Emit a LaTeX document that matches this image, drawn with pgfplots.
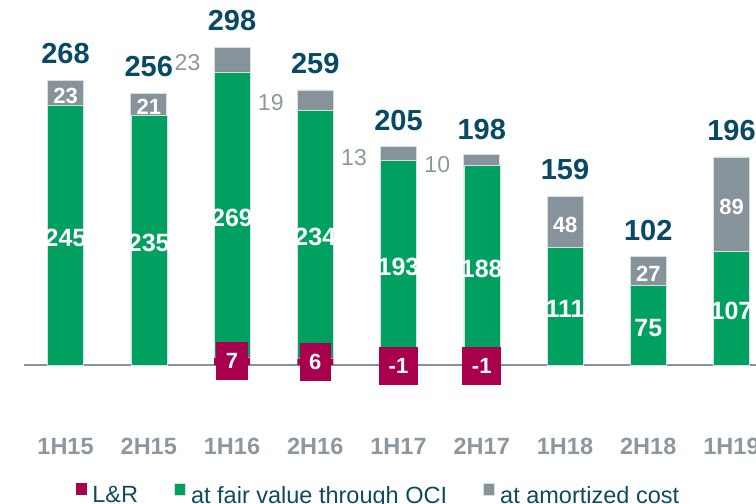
\documentclass[border=0pt]{standalone}
\usepackage{pgfplots}
\pgfplotsset{compat=1.18}
\usepackage{fontspec}
\setmainfont{Liberation Sans}
\definecolor{lrred}{RGB}{168,0,76}
\definecolor{fvgreen}{RGB}{0,160,96}
\definecolor{acgray}{RGB}{134,147,154}
\definecolor{totblue}{RGB}{8,74,100}
\definecolor{ticgray}{RGB}{140,152,158}
\definecolor{legtext}{RGB}{16,74,94}
\definecolor{edge}{RGB}{214,224,226}
\pgfplotsset{
  base/.style={
    scale only axis, width=749.25pt, height=435pt,
    xmin=-0.5, xmax=8.5, ymin=-65.9, ymax=343.7,
    at={(23.9pt,69pt)}, anchor=south west,
  },
}
\begin{document}
\begin{tikzpicture}
\useasboundingbox (0,0) rectangle (756pt,504pt);
\clip (0,0) rectangle (756pt,504pt);
\begin{axis}[base,
  ybar stacked, bar width=36pt,
  axis line style={draw=none}, tick style={draw=none},
  ytick=\empty, xtick={0,...,8},
  xticklabels={1H15,2H15,1H16,2H16,1H17,2H17,1H18,2H18,1H19},
  xticklabel style={font=\fontsize{23.5}{24}\selectfont\bfseries, text=ticgray, inner sep=0pt, anchor=north, yshift=-3pt},
  extra y ticks={0}, extra y tick labels={},
  extra y tick style={grid=major, major grid style={draw=acgray, line width=1.5pt}},
  legend columns=-1,
  legend style={at={(0.0691,-0.1103)}, anchor=north west, draw=none, fill=none, inner sep=0pt,
     font=\fontsize{23.5}{24}\selectfont, text=legtext,
     nodes={inner sep=0pt},
     /tikz/every odd column/.append style={column sep=5.5pt},
     /tikz/every even column/.append style={column sep=36pt}},
  legend image code/.code={\fill[#1] (0pt,0pt) rectangle (11pt,12pt);},
]
\addplot[fill=lrred, draw=none] coordinates {(0,0)(1,0)(2,7)(3,6)(4,-1)(5,-1)(6,0)(7,0)(8,0)};
\addplot[fill=fvgreen, draw=edge, line width=0.5pt] coordinates {(0,245)(1,235)(2,269)(3,234)(4,193)(5,188)(6,111)(7,75)(8,107)};
\addplot[fill=acgray, draw=edge, line width=0.6pt] coordinates {(0,23)(1,21)(2,23)(3,19)(4,13)(5,10)(6,48)(7,27)(8,89)};
\legend{L\&R, at fair value through OCI, at amortized cost}
\end{axis}
\begin{axis}[base, hide axis, clip=false]
% green segment labels
\addplot[draw=none, mark=none, nodes near coords, point meta=explicit symbolic,
  every node near coord/.style={anchor=center, font=\fontsize{25}{26}\selectfont\bfseries, text=white, inner sep=0pt, yshift=-3pt}]
  coordinates {(0,122.5)[245] (1,117.5)[235] (2,141.5)[269] (3,123)[234] (4,95.5)[193] (5,93)[188] (6,55.5)[111] (7,37.5)[75] (8,53.5)[107]};
% gray segment labels inside
\addplot[draw=none, mark=none, nodes near coords, point meta=explicit symbolic,
  every node near coord/.style={anchor=center, font=\fontsize{22}{23}\selectfont\bfseries, text=white, inner sep=0pt, yshift=-3pt}]
  coordinates {(0,256.5)[23] (1,245.5)[21] (6,135)[48] (7,88.5)[27] (8,151.5)[89]};
% gray segment labels outside
\addplot[draw=none, mark=none, nodes near coords, point meta=explicit symbolic,
  every node near coord/.style={anchor=east, font=\fontsize{23}{24}\selectfont, text=ticgray, inner sep=0pt, xshift=-31.5pt, yshift=-3pt}]
  coordinates {(2,287.5)[23] (3,249.5)[19] (4,198.5)[13] (5,192)[10]};
% L&R labels
\addplot[draw=none, mark=none, nodes near coords, point meta=explicit symbolic,
  every node near coord/.style={anchor=center, font=\fontsize{22}{23}\selectfont\bfseries, text=white, fill=lrred, inner xsep=9.5pt, inner ysep=0pt, minimum height=38pt}]
  coordinates {(2,3.5)[7] (3,3)[6] (4,-0.5)[-1] (5,-0.5)[-1]};
% totals
\addplot[draw=none, mark=none, nodes near coords, point meta=explicit symbolic,
  every node near coord/.style={anchor=south, font=\fontsize{29}{30}\selectfont\bfseries, text=totblue, inner sep=0pt, yshift=16pt}]
  coordinates {(0,268)[268] (1,256)[256] (2,299)[298] (3,259)[259] (4,205)[205] (5,197)[198] (6,159)[159] (7,102)[102] (8,196)[196]};
\end{axis}
\end{tikzpicture}
\end{document}
